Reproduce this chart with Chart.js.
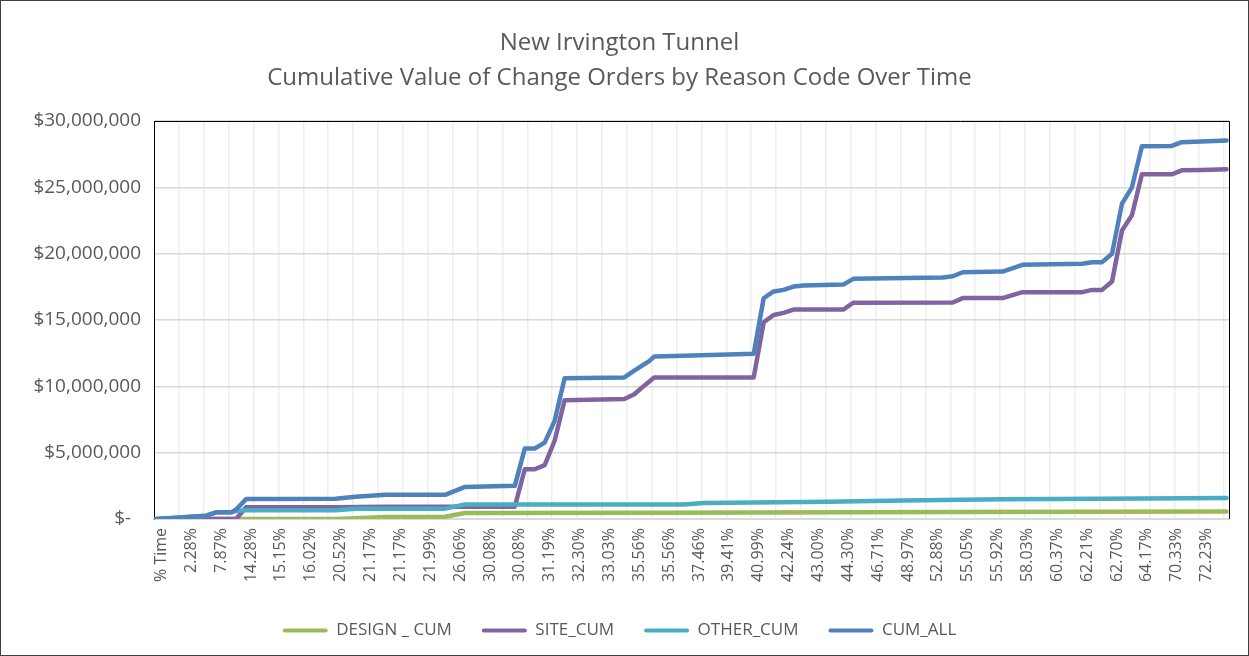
<!DOCTYPE html>
<html>
<head>
<meta charset="utf-8">
<script src="https://cdn.jsdelivr.net/npm/chart.js@4/dist/chart.umd.min.js"></script>
<style>
  html, body { margin: 0; padding: 0; background: #fff; }
  #wrap { width: 1249px; height: 656px; position: relative; }
</style>
</head>
<body>
<div id="wrap"><canvas id="myChart" width="1249" height="656"></canvas></div>
<script>
// tick labels shown on the category axis (every 6th point, starting at point 1)
const timeLabels = [
    '% Time', '2.28%', '7.87%', '14.28%', '15.15%', '16.02%', '20.52%', '21.17%',
    '21.17%', '21.99%', '26.06%', '30.08%', '30.08%', '31.19%', '32.30%', '33.03%',
    '35.56%', '35.56%', '37.46%', '39.41%', '40.99%', '42.24%', '43.00%', '44.30%',
    '46.71%', '48.97%', '52.88%', '55.05%', '55.92%', '58.03%', '60.37%', '62.21%',
    '62.70%', '64.17%', '70.33%', '72.23%'
];
const pointCount = 216;

// series, as [point index, value in $ millions] where the line bends
const designCum = [
    [0, 0], [36, 0], [40, 0.05], [46, 0.15], [58, 0.17], [62, 0.45],
    [100, 0.48], [160, 0.53], [215, 0.56]
];
const siteCum = [
    [0, 0], [16, 0], [18, 0.88], [36, 0.88], [46, 0.93], [72, 0.93],
    [74, 3.75], [76, 3.75], [78, 4.06], [80, 5.9], [82, 8.96], [94, 9.04],
    [96, 9.4], [98, 10.05], [100, 10.67], [120, 10.67], [122, 14.83], [124, 15.38],
    [126, 15.54], [128, 15.79], [138, 15.79], [140, 16.3], [160, 16.32], [162, 16.65],
    [170, 16.65], [174, 17.1], [186, 17.1], [188, 17.27], [190, 17.27], [192, 17.9],
    [194, 21.75], [196, 22.9], [198, 25.98], [204, 25.98], [206, 26.28], [210, 26.3],
    [215, 26.36]
];
const otherCum = [
    [0, 0], [4, 0.1], [10, 0.25], [12, 0.5], [15, 0.5], [16, 0.6], [18, 0.66],
    [36, 0.66], [40, 0.78], [58, 0.78], [62, 1.1], [106, 1.1], [110, 1.2],
    [135, 1.3], [150, 1.4], [170, 1.48], [190, 1.53], [215, 1.58]
];
const cumAll = [
    [0, 0], [4, 0.1], [10, 0.25], [12, 0.5], [15, 0.5], [16, 0.72], [18, 1.5],
    [36, 1.53], [40, 1.68], [46, 1.82], [58, 1.82], [62, 2.42], [72, 2.5],
    [74, 5.31], [76, 5.31], [78, 5.76], [80, 7.4], [82, 10.6], [94, 10.67],
    [96, 11.18], [99, 11.9], [100, 12.24], [106, 12.3], [120, 12.45], [122, 16.64],
    [124, 17.15], [126, 17.27], [128, 17.52], [130, 17.6], [138, 17.67], [140, 18.1],
    [158, 18.2], [160, 18.3], [162, 18.6], [170, 18.65], [174, 19.16], [186, 19.24],
    [188, 19.36], [190, 19.36], [192, 20.0], [194, 23.77], [196, 25.0], [198, 28.1],
    [204, 28.12], [206, 28.4], [210, 28.45], [215, 28.53]
];

const FONT = "'Open Sans', 'DejaVu Sans', sans-serif";
const GREY = '#595959';

const toPoints = arr => arr.map(p => ({ x: p[0], y: p[1] * 1e6 }));

// order: later series sit on top, like the spreadsheet draws them
const line = (label, arr, color, order) => ({
    label: label,
    data: toPoints(arr),
    borderColor: color,
    backgroundColor: color,
    borderWidth: 4.5,
    pointRadius: 0,
    tension: 0,
    order: order,
    borderJoinStyle: 'round',
    borderCapStyle: 'round'
});

// frame around the plot area (top/right) and the whole picture
const frames = {
    id: 'frames',
    beforeDatasetsDraw(chart) {
        const a = chart.chartArea, ctx = chart.ctx;
        ctx.save();
        ctx.strokeStyle = '#000';
        ctx.lineWidth = 1;
        ctx.beginPath();
        ctx.moveTo(a.left, a.top + 0.5);
        ctx.lineTo(a.right + 0.5, a.top + 0.5);
        ctx.lineTo(a.right + 0.5, a.bottom);
        ctx.stroke();
        ctx.restore();
    },
    afterDraw(chart) {
        const ctx = chart.ctx;
        ctx.save();
        ctx.strokeStyle = '#3f3f3f';
        ctx.lineWidth = 1;
        ctx.strokeRect(0.5, 0.5, chart.width - 1, chart.height - 1);
        ctx.restore();
    }
};

const config = {
    type: 'line',
    data: {
        datasets: [
            line('DESIGN _ CUM', designCum, '#9BBB59', 4),
            line('SITE_CUM', siteCum, '#8064A2', 3),
            line('OTHER_CUM', otherCum, '#4BACC6', 2),
            line('CUM_ALL', cumAll, '#4F81BD', 1)
        ]
    },
    options: {
        responsive: false,
        animation: false,
        layout: { padding: { left: 10, right: 20, top: 0, bottom: 7 } },
        scales: {
            x: {
                type: 'linear',
                position: 'bottom',
                min: -0.5,
                max: pointCount - 0.5,
                afterBuildTicks: s => {
                    s.ticks = timeLabels.map((t, k) => ({ value: 1 + 6 * k }));
                },
                afterFit: s => { s.height = 73; },
                ticks: {
                    autoSkip: false,
                    minRotation: 90,
                    maxRotation: 90,
                    padding: 9,
                    color: GREY,
                    font: { family: FONT, size: 16 },
                    callback: (v, i) => timeLabels[i]
                },
                grid: { display: false, drawTicks: false },
                border: { color: '#d9d9d9', width: 2 }
            },
            xg: {
                type: 'linear',
                position: 'bottom',
                min: -0.5,
                max: pointCount - 0.5,
                afterBuildTicks: s => {
                    const t = [];
                    for (let v = 4.5; v < pointCount - 0.5; v += 5) t.push({ value: v });
                    s.ticks = t;
                },
                afterFit: s => { s.height = 0; },
                ticks: { display: false },
                grid: { color: '#ededed', lineWidth: 1.5, drawTicks: false },
                border: { display: false }
            },
            y: {
                min: 0,
                max: 30000000,
                afterFit: s => { s.width = 144; },
                ticks: {
                    stepSize: 5000000,
                    padding: 13,
                    color: GREY,
                    font: { family: FONT, size: 19 },
                    callback: v => v === 0 ? '$-  ' : '$' + v.toLocaleString('en-US')
                },
                grid: { color: '#d9d9d9', lineWidth: 1.5, drawTicks: false },
                border: { color: '#000', width: 1 }
            }
        },
        plugins: {
            title: {
                display: true,
                text: ['New Irvington Tunnel', 'Cumulative Value of Change Orders by Reason Code Over Time'],
                color: GREY,
                font: { family: FONT, size: 24, weight: 'normal', lineHeight: 1.45 },
                padding: { top: 25.6, bottom: 25.8 }
            },
            legend: {
                position: 'bottom',
                labels: {
                    boxWidth: 45,
                    boxHeight: 4,
                    padding: 30,
                    color: GREY,
                    font: { family: FONT, size: 17 },
                    generateLabels: chart => chart.data.datasets.map((d, i) => ({
                        text: d.label,
                        fillStyle: d.borderColor,
                        strokeStyle: d.borderColor,
                        lineWidth: 0,
                        borderRadius: 2,
                        fontColor: GREY,
                        hidden: false,
                        datasetIndex: i
                    }))
                }
            },
            tooltip: { enabled: false }
        }
    },
    plugins: [frames]
};

const myChart = new Chart(document.getElementById('myChart'), config);
</script>
</body>
</html>
